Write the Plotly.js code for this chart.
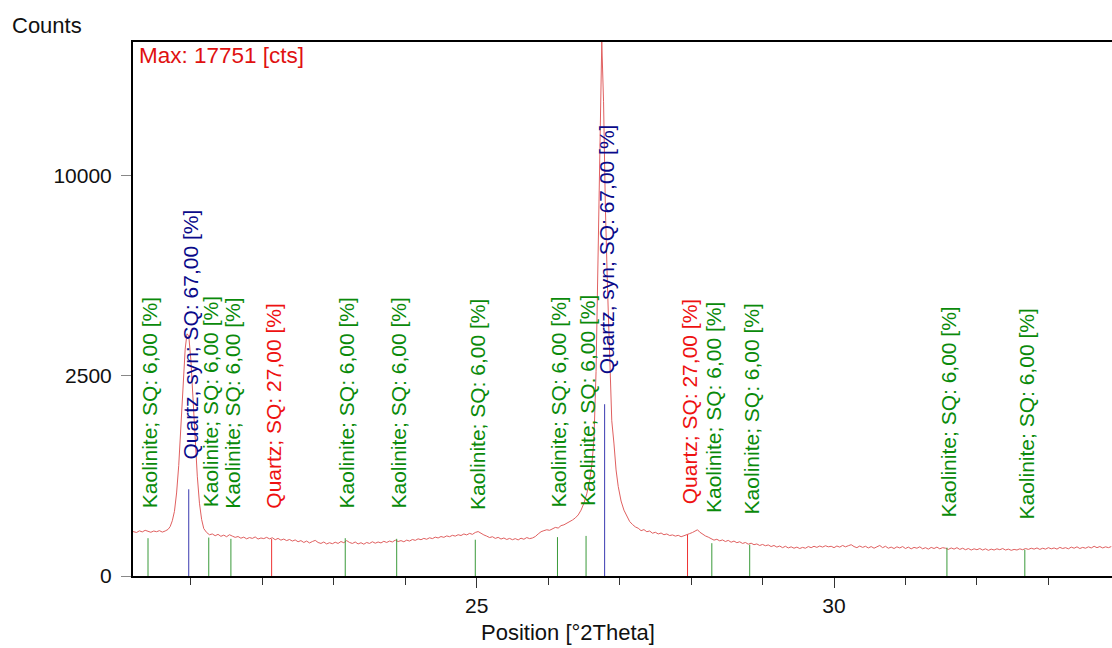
<!DOCTYPE html>
<html>
<head>
<meta charset="utf-8">
<script src="https://cdn.plot.ly/plotly-3.0.1.min.js"></script>
<style>
  html, body { margin: 0; padding: 0; background: #ffffff; }
  #chart { width: 1112px; height: 648px; }
</style>
</head>
<body>
<div id="chart"></div>
<script>
// ---- Measured pattern (position in °2Theta, intensity in counts) ----
const positions = [
 20.19,20.24,20.28,20.32,20.36,20.40,20.44,20.48,20.52,20.56,20.60,20.64,20.68,20.71,20.74,20.77,20.80,20.83,20.86,20.89,
 20.92,20.945,20.97,21.00,21.03,21.06,21.09,21.12,21.15,21.18,21.22,21.26,21.30,21.34,21.38,21.42,21.46,21.50,21.54,21.58,
 21.62,21.66,21.70,21.74,21.78,21.82,21.86,21.90,21.94,21.98,22.02,22.06,22.10,22.14,22.18,22.22,22.26,22.30,22.34,22.38,
 22.42,22.46,22.50,22.54,22.58,22.62,22.66,22.70,22.74,22.78,22.82,22.86,22.90,22.94,22.98,23.02,23.06,23.10,23.14,23.18,
 23.22,23.26,23.30,23.34,23.38,23.42,23.46,23.50,23.54,23.58,23.62,23.66,23.70,23.74,23.78,23.82,23.86,23.90,23.94,23.98,
 24.02,24.06,24.10,24.14,24.18,24.22,24.26,24.30,24.34,24.38,24.42,24.46,24.50,24.54,24.58,24.62,24.66,24.70,24.74,24.78,
 24.82,24.86,24.90,24.94,24.98,25.02,25.06,25.10,25.14,25.18,25.22,25.26,25.30,25.34,25.38,25.42,25.46,25.50,25.54,25.58,
 25.62,25.66,25.70,25.74,25.78,25.82,25.86,25.90,25.94,25.98,26.02,26.06,26.10,26.14,26.18,26.22,26.26,26.30,26.34,26.38,
 26.42,26.46,26.50,26.54,26.58,26.61,26.64,26.67,26.70,26.725,26.75,26.775,26.80,26.83,26.86,26.89,26.92,26.95,26.98,27.02,
 27.06,27.10,27.14,27.18,27.22,27.26,27.30,27.34,27.38,27.42,27.46,27.50,27.54,27.58,27.62,27.66,27.70,27.74,27.78,27.82,
 27.86,27.90,27.94,27.98,28.02,28.06,28.09,28.12,28.16,28.20,28.24,28.28,28.32,28.36,28.40,28.44,28.48,28.52,28.56,28.60,
 28.64,28.68,28.72,28.76,28.80,28.84,28.88,28.92,28.96,29.00,29.04,29.08,29.12,29.16,29.20,29.24,29.28,29.32,29.36,29.40,
 29.44,29.48,29.52,29.56,29.60,29.64,29.68,29.72,29.76,29.80,29.84,29.88,29.92,29.96,30.00,30.04,30.08,30.12,30.16,30.20,
 30.24,30.28,30.32,30.36,30.40,30.44,30.48,30.52,30.56,30.60,30.64,30.68,30.72,30.76,30.80,30.84,30.88,30.92,30.96,31.00,
 31.04,31.08,31.12,31.16,31.20,31.24,31.28,31.32,31.36,31.40,31.44,31.48,31.52,31.56,31.60,31.64,31.68,31.72,31.76,31.80,
 31.84,31.88,31.92,31.96,32.00,32.04,32.08,32.12,32.16,32.20,32.24,32.28,32.32,32.36,32.40,32.44,32.48,32.52,32.56,32.60,
 32.64,32.68,32.72,32.76,32.80,32.84,32.88,32.92,32.96,33.00,33.04,33.08,33.12,33.16,33.20,33.24,33.28,33.32,33.36,33.40,
 33.44,33.48,33.52,33.56,33.60,33.64,33.68,33.72,33.76,33.80,33.84,33.88
];
const counts = [
 123,118,127,121,130,124,119,126,122,128,120,126,135,152,190,260,429,760,1400,2400,
 3200,3650,3600,2900,1858,1050,620,330,200,140,118,106,110,101,108,98,104,96,106,99,
 93,97,89,94,86,92,88,95,85,90,87,93,86,91,82,88,80,85,78,83,
 76,81,73,78,70,76,68,74,79,70,66,72,64,69,65,71,66,74,69,78,
 70,66,72,64,69,63,70,66,73,67,72,68,75,70,76,72,80,74,78,73,
 80,76,83,79,86,82,88,84,91,87,94,90,97,93,100,96,103,99,106,102,
 110,105,113,108,118,123,112,105,99,92,96,88,93,85,90,83,88,82,87,81,
 89,84,92,87,90,97,110,122,128,133,130,140,147,143,158,163,172,180,195,210,
 232,270,330,420,570,760,1150,2600,6500,12500,17751,14000,8500,5200,2700,1500,1100,700,500,350,
 270,220,185,165,150,142,128,134,122,126,114,119,110,115,106,110,102,105,99,103,
 96,101,105,112,118,126,133,120,108,100,94,85,80,84,77,81,74,79,71,76,
 69,73,66,70,63,67,61,64,58,62,57,60,54,58,52,56,50,55,49,53,
 48,52,47,51,48,54,50,55,51,56,52,57,53,55,50,56,52,58,53,57,
 61,54,50,56,51,55,49,54,48,53,58,50,55,48,52,47,53,49,54,47,
 52,46,51,48,53,46,50,45,51,47,52,46,50,48,44,49,45,50,44,48,
 43,47,42,46,43,47,42,46,41,45,42,46,43,47,42,45,41,44,42,46,
 43,47,44,48,45,49,44,48,45,50,46,49,45,51,47,50,46,52,48,53,
 47,51,48,53,49,55,50,54,49,53,50,54
];
const maxCounts = 17751;

// ---- Reference pattern sticks ----
const stickPositions = [20.40, 20.97, 21.25, 21.56, 22.13, 23.16, 23.88, 24.98, 26.13, 26.53, 26.79, 27.95, 28.29, 28.82, 31.58, 32.67];
const stickCounts    = [89,    468,   92,    86,    85,    89,    86,    82,    94,    100,   1837,  106,   67,    61,    50,    43];
const stickPhases    = ['K',   'QS',  'K',   'K',   'Q',   'K',   'K',   'K',   'K',   'K',   'QS',  'Q',   'K',   'K',   'K',   'K'];

const phaseLabels = {
  K:  'Kaolinite; SQ: 6,00 [%]',
  QS: 'Quartz, syn; SQ: 67,00 [%]',
  Q:  'Quartz; SQ: 27,00 [%]'
};
const phaseColors = { K: '#0a8a0a', QS: '#0a0a8a', Q: '#ee1111' };
const stickColors = { K: '#3a9a3a', QS: '#3a3ab0', Q: '#ee3333' };

// y tick labels (axis is square-root scaled)
const yTickCounts = [0, 2500, 10000];
const yTickText = ['0', '2500', '10000'];

const FONT = 'Liberation Sans, Arial, sans-serif';
const sq = v => Math.sqrt(v);

const traces = [{
  type: 'scatter', mode: 'lines',
  x: positions, y: counts.map(sq),
  line: { color: '#e06060', width: 1 },
  hoverinfo: 'skip', showlegend: false, cliponaxis: true
}];

['K', 'QS', 'Q'].forEach(ph => {
  const xs = [], ys = [];
  stickPositions.forEach((p, i) => {
    if (stickPhases[i] === ph) { xs.push(p, p, null); ys.push(0, sq(stickCounts[i]), null); }
  });
  traces.push({
    type: 'scatter', mode: 'lines', x: xs, y: ys,
    line: { color: stickColors[ph], width: 1 },
    hoverinfo: 'skip', showlegend: false
  });
});

const annotations = stickPositions.map((p, i) => ({
  x: p, y: sq(stickCounts[i]), xref: 'x', yref: 'y',
  text: phaseLabels[stickPhases[i]], showarrow: false,
  textangle: -90, xanchor: 'center', yanchor: 'bottom',
  xshift: 1.5, yshift: 28,
  font: { family: FONT, size: 21, color: phaseColors[stickPhases[i]] }
}));

annotations.push({
  xref: 'paper', yref: 'paper', x: 0.004, y: 1, xanchor: 'left', yanchor: 'top',
  yshift: 1, showarrow: false, text: 'Max: ' + maxCounts + ' [cts]',
  font: { family: FONT, size: 22.5, color: '#e01010' }
});
annotations.push({
  xref: 'paper', yref: 'paper', x: (10 - 133) / 979, y: 1 + (42 - 25) / 534.5,
  xanchor: 'left', yanchor: 'middle', showarrow: false, text: 'Counts',
  font: { family: FONT, size: 22, color: '#111' }
});
annotations.push({
  xref: 'paper', yref: 'paper', x: (568 - 133) / 979, y: -(633 - 576.5) / 534.5,
  xanchor: 'center', yanchor: 'middle', showarrow: false, text: 'Position [°2Theta]',
  font: { family: FONT, size: 22, color: '#111' }
});

const layout = {
  width: 1112, height: 648,
  margin: { l: 133, r: 0, t: 42, b: 71.5, pad: 0 },
  paper_bgcolor: '#ffffff', plot_bgcolor: '#ffffff',
  font: { family: FONT, size: 21, color: '#111' },
  showlegend: false,
  xaxis: {
    range: [20.19, 33.89], showgrid: false, zeroline: false,
    showline: true, linecolor: '#000', linewidth: 2, mirror: true,
    ticks: 'outside', ticklen: 10, tickwidth: 1, tickcolor: '#333',
    tick0: 0, dtick: 5, tickfont: { family: FONT, size: 21, color: '#111' },
    minor: { dtick: 1, ticks: 'outside', ticklen: 7, tickwidth: 1, tickcolor: '#333', showgrid: false }
  },
  yaxis: {
    range: [0, Math.sqrt(maxCounts)], showgrid: false, zeroline: false,
    showline: true, linecolor: '#000', linewidth: 2, mirror: false,
    tickmode: 'array', tickvals: yTickCounts.map(sq), ticktext: yTickText,
    ticks: 'outside', ticklen: 10, tickwidth: 1, tickcolor: '#888',
    ticklabelstandoff: 5,
    tickfont: { family: FONT, size: 21, color: '#111' }
  },
  annotations: annotations
};

Plotly.newPlot('chart', traces, layout, { staticPlot: true, displayModeBar: false });
</script>
</body>
</html>
